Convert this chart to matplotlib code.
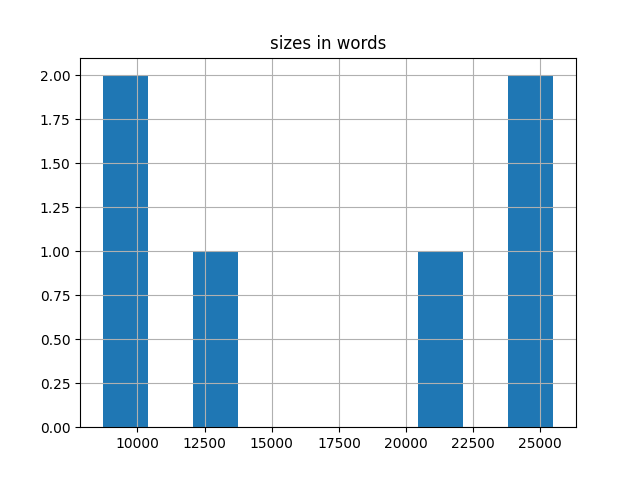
import matplotlib
matplotlib.use("Agg")
import matplotlib.pyplot as plt

# document sizes (word counts)
title = "sizes in words"
sizes = [8700, 9800, 12900, 21300, 24500, 25490]
n_bins = 10

fig, ax = plt.subplots(figsize=(6.4, 4.8), dpi=100)
ax.hist(sizes, bins=n_bins, color="#1f77b4")
ax.grid(True)
ax.set_title(title)

fig.savefig("out.png")
